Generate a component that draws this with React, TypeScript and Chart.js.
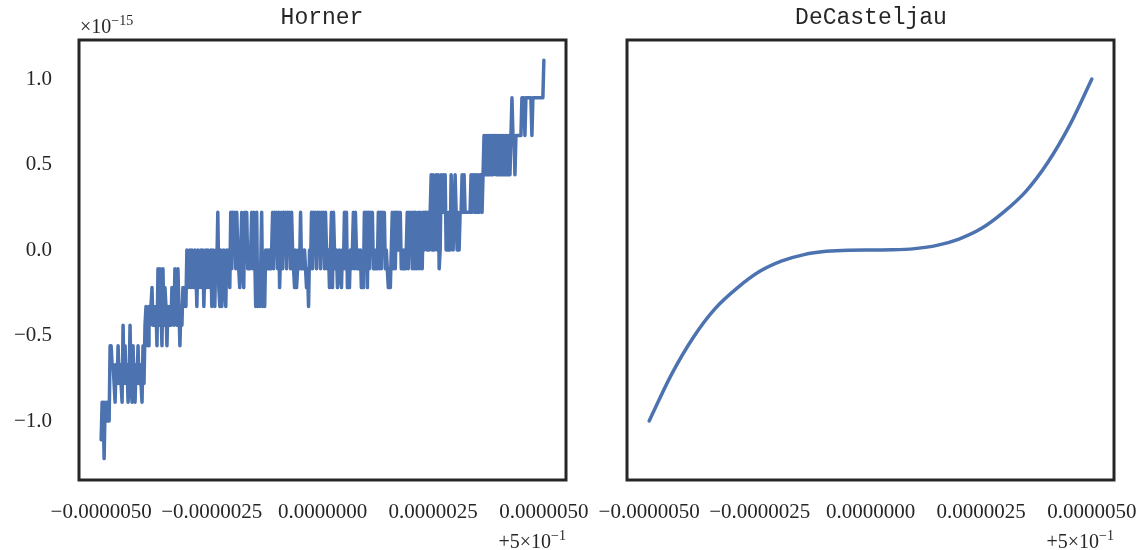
import React, { useEffect, useRef } from "react";
import { Chart, registerables } from "chart.js";

Chart.register(...registerables);

// ---- axis ticks (x values are offsets from 0.5; y values in units of 1e-15) ----
const X_TICKS = [-5e-6, -2.5e-6, 0, 2.5e-6, 5e-6];
const X_TICK_LABELS = ["−0.0000050", "−0.0000025", "0.0000000", "0.0000025", "0.0000050"];
const Y_TICKS = [-1.0, -0.5, 0.0, 0.5, 1.0];
const Y_TICK_LABELS = ["−1.0", "−0.5", "0.0", "0.5", "1.0"];
const X_RANGE = [-5.5e-6, 5.5e-6];
const Y_RANGE = [-1.345, 1.228];

// ---- Horner evaluation (noisy, quantized), evenly spaced samples ----
const HORNER_X_START = -5e-6;
const HORNER_X_END = 5e-6;
const HORNER_VALUES = [
  -1.11, -0.89, -0.89, -1.22, -0.89, -1.0, -0.89, -1.0, -1.0, -0.56, -0.56, -0.67, -0.67, -0.78, -0.89, -0.67, -0.78, -0.56, -0.78, -0.67,
  -0.78, -0.89, -0.44, -0.78, -0.56, -0.78, -0.67, -0.89, -0.78, -0.44, -0.78, -0.89, -0.56, -0.78, -0.89, -0.67, -0.78, -0.56, -0.78, -0.67,
  -0.78, -0.89, -0.56, -0.78, -0.44, -0.33, -0.44, -0.56, -0.33, -0.44, -0.33, -0.22, -0.44, -0.33, -0.44, -0.33, -0.56, -0.11, -0.44, -0.11,
  -0.33, -0.56, -0.11, -0.44, -0.22, -0.33, -0.56, -0.33, -0.44, -0.33, -0.44, -0.22, -0.33, -0.44, -0.11, -0.33, -0.44, -0.11, -0.33, -0.56,
  -0.33, -0.44, -0.22, -0.33, -0.22, -0.33, 0, -0.22, -0.11, 0, -0.22, 0, -0.11, -0.22, 0, -0.11, -0.33, 0, -0.22, -0.11,
  0, -0.22, 0, -0.33, -0.11, 0, -0.22, 0, -0.11, -0.22, 0, -0.33, 0, -0.22, -0.33, 0, -0.11, 0.22, -0.22, -0.33,
  0, -0.33, -0.11, 0, -0.22, -0.33, 0, -0.11, 0, -0.22, 0.22, -0.11, 0.22, 0, 0.22, -0.11, 0.22, 0, -0.11, -0.22,
  0, 0.22, -0.11, -0.22, 0.22, 0, 0.22, -0.11, 0, -0.11, 0, 0.22, -0.11, 0.22, 0, -0.33, 0.22, -0.33, -0.11, -0.33,
  -0.11, 0.22, -0.33, -0.11, -0.33, 0, -0.11, 0, -0.11, 0, -0.11, 0, 0.22, -0.11, 0.22, 0, 0.22, -0.11, 0.22, -0.22,
  0, 0.22, -0.11, 0.22, 0, 0.22, -0.11, 0.22, 0, 0.22, -0.11, 0.22, 0, -0.11, -0.22, 0, -0.22, -0.11, 0, -0.11,
  0.22, -0.11, 0, -0.11, 0, -0.11, -0.22, -0.11, -0.33, 0, -0.11, 0.22, -0.11, 0.22, 0, 0.22, -0.11, 0.22, 0, 0.22,
  -0.11, 0.22, 0, 0.22, -0.11, 0.22, 0, -0.11, 0, -0.22, 0, 0.22, -0.22, 0.22, 0, -0.11, 0, -0.22, -0.11, 0,
  -0.11, -0.22, 0, -0.11, 0.22, -0.11, 0.22, -0.22, -0.11, -0.22, 0, -0.11, 0, 0.22, -0.11, 0.22, 0, -0.11, 0, -0.11,
  0, -0.22, -0.11, -0.22, 0.22, -0.11, 0.22, -0.22, 0.22, -0.11, 0.22, 0, 0.22, -0.11, 0, -0.11, 0, -0.11, 0.22, -0.11,
  0.22, -0.11, 0.22, 0, 0.22, -0.11, 0, -0.11, -0.22, -0.11, -0.22, 0, 0.22, -0.11, 0.22, -0.11, 0.22, 0, 0.22, 0,
  0.22, -0.11, 0, -0.11, 0, -0.11, 0, 0.22, -0.11, 0.22, 0, 0.22, -0.11, 0.22, -0.11, 0.22, -0.11, 0, 0.22, -0.11,
  0.22, 0, -0.11, 0.22, 0, 0.22, 0.22, 0, 0.22, 0, 0.22, 0.44, 0, 0.44, 0, 0.22, 0.44, 0, 0.44, -0.11,
  0, 0.44, 0.22, 0.44, 0.22, 0.44, 0, 0.22, 0, 0.22, 0, 0.44, 0.22, 0, 0.22, 0.44, 0.22, 0, 0.22, 0,
  0.22, 0.22, 0.44, 0.22, 0.44, 0.22, 0.22, 0.22, 0.22, 0.22, 0.22, 0.44, 0.22, 0.44, 0.44, 0.22, 0.44, 0.22, 0.44, 0.22,
  0.44, 0.44, 0.22, 0.44, 0.67, 0.44, 0.67, 0.44, 0.67, 0.44, 0.67, 0.44, 0.67, 0.44, 0.67, 0.67, 0.44, 0.67, 0.44, 0.67,
  0.44, 0.67, 0.44, 0.67, 0.44, 0.67, 0.44, 0.67, 0.44, 0.67, 0.44, 0.67, 0.89, 0.67, 0.67, 0.44, 0.67, 0.67, 0.67, 0.67,
  0.67, 0.67, 0.89, 0.89, 0.89, 0.67, 0.89, 0.89, 0.89, 0.89, 0.89, 0.89, 0.67, 0.89, 0.89, 0.89, 0.89, 0.89, 0.89, 0.89,
  0.89, 0.89, 0.89, 0.89, 1.11,
];

// ---- DeCasteljau evaluation (smooth) ----
const CASTELJAU_X = [
  -5e-6, -4.5e-6, -4e-6, -3.5e-6, -3e-6, -2.5e-6, -2e-6, -1.5e-6, -1e-6, -0.5e-6, 0,
  0.5e-6, 1e-6, 1.5e-6, 2e-6, 2.5e-6, 3e-6, 3.5e-6, 4e-6, 4.5e-6, 5e-6,
];
const CASTELJAU_VALUES = [
  -1.0, -0.73, -0.51, -0.34, -0.22, -0.125, -0.064, -0.027, -0.008, -0.001, 0,
  0.001, 0.008, 0.027, 0.064, 0.125, 0.22, 0.34, 0.51, 0.73, 1.0,
];

const LINE_COLOR = "#4C72B0";
const TEXT_COLOR = "#262626";
const TICK_FONT = { family: "'Liberation Serif', 'DejaVu Serif', serif", size: 21 };

const framePlugin = {
  id: "frameBox",
  afterDatasetsDraw(chart: any) {
    const { ctx, chartArea: a } = chart;
    ctx.save();
    ctx.strokeStyle = TEXT_COLOR;
    ctx.lineWidth = 3;
    ctx.strokeRect(a.left, a.top, a.right - a.left, a.bottom - a.top);
    ctx.restore();
  },
};

function buildChart(
  canvas: HTMLCanvasElement,
  points: { x: number; y: number }[],
  smooth: boolean,
  showY: boolean,
  padLeft: number,
  padRight: number
) {
  return new Chart(canvas, {
    type: "line",
    data: {
      datasets: [
        {
          data: points,
          borderColor: LINE_COLOR,
          borderWidth: 3.5,
          pointRadius: 0,
          fill: false,
          tension: 0,
          cubicInterpolationMode: smooth ? "monotone" : "default",
          borderJoinStyle: "round",
          borderCapStyle: "round",
        } as any,
      ],
    },
    options: {
      responsive: false,
      animation: false,
      layout: { padding: { left: padLeft, right: padRight, top: 40, bottom: 0 } },
      plugins: { legend: { display: false }, tooltip: { enabled: false }, title: { display: false } },
      scales: {
        x: {
          type: "linear",
          min: X_RANGE[0],
          max: X_RANGE[1],
          grid: { display: false, drawTicks: false },
          border: { display: false },
          afterBuildTicks: (s: any) => {
            s.ticks = X_TICKS.map((v) => ({ value: v }));
          },
          afterFit: (s: any) => {
            s.height = 70;
            s.paddingLeft = 0;
            s.paddingRight = 0;
          },
          ticks: {
            autoSkip: false,
            maxRotation: 0,
            minRotation: 0,
            padding: 20,
            color: TEXT_COLOR,
            font: TICK_FONT,
            callback: (_v: any, i: number) => X_TICK_LABELS[i],
          },
        },
        y: {
          type: "linear",
          display: showY,
          min: Y_RANGE[0],
          max: Y_RANGE[1],
          grid: { display: false, drawTicks: false },
          border: { display: false },
          afterBuildTicks: (s: any) => {
            s.ticks = Y_TICKS.map((v) => ({ value: v }));
          },
          afterFit: (s: any) => {
            s.width = showY ? 79 : 0;
            s.paddingTop = 0;
            s.paddingBottom = 0;
          },
          ticks: {
            padding: 27,
            color: TEXT_COLOR,
            font: TICK_FONT,
            callback: (_v: any, i: number) => Y_TICK_LABELS[i],
          },
        },
      },
    } as any,
    plugins: [framePlugin],
  });
}

const serif = "'Liberation Serif', 'DejaVu Serif', serif";

function OffsetLabel({ right }: { right: number }) {
  return (
    <div
      style={{
        position: "absolute",
        left: right,
        top: 531,
        transform: "translateX(-100%)",
        font: `20px ${serif}`,
        lineHeight: "20px",
        color: TEXT_COLOR,
        whiteSpace: "nowrap",
      }}
    >
      +5×10
      <span style={{ fontSize: 14, position: "relative", top: -8 }}>−1</span>
    </div>
  );
}

function Title({ text, center }: { text: string; center: number }) {
  return (
    <div
      style={{
        position: "absolute",
        left: center,
        top: 7,
        transform: "translateX(-50%)",
        font: "23px 'Liberation Mono', 'DejaVu Sans Mono', monospace",
        lineHeight: "23px",
        color: TEXT_COLOR,
        whiteSpace: "nowrap",
      }}
    >
      {text}
    </div>
  );
}

export default function App() {
  const leftRef = useRef<HTMLCanvasElement>(null);
  const rightRef = useRef<HTMLCanvasElement>(null);

  useEffect(() => {
    const step = (HORNER_X_END - HORNER_X_START) / (HORNER_VALUES.length - 1);
    const hornerPts = HORNER_VALUES.map((y, i) => ({ x: HORNER_X_START + i * step, y }));
    const castPts = CASTELJAU_VALUES.map((y, i) => ({ x: CASTELJAU_X[i], y }));
    const c1 = buildChart(leftRef.current!, hornerPts, false, true, 0, 34);
    const c2 = buildChart(rightRef.current!, castPts, true, false, 67, 29);
    return () => {
      c1.destroy();
      c2.destroy();
    };
  }, []);

  return (
    <div
      style={{
        position: "absolute",
        left: 0,
        top: 0,
        width: 1143,
        height: 550,
        background: "#ffffff",
        overflow: "hidden",
      }}
    >
      <canvas
        ref={leftRef}
        width={600}
        height={550}
        style={{ position: "absolute", left: 0, top: 0, width: 600, height: 550 }}
      />
      <canvas
        ref={rightRef}
        width={583}
        height={550}
        style={{ position: "absolute", left: 560, top: 0, width: 583, height: 550 }}
      />
      <Title text="Horner" center={322} />
      <Title text="DeCasteljau" center={871} />
      <div
        style={{
          position: "absolute",
          left: 80,
          top: 16,
          font: `20px ${serif}`,
          lineHeight: "20px",
          color: TEXT_COLOR,
          whiteSpace: "nowrap",
        }}
      >
        ×10
        <span style={{ fontSize: 14, position: "relative", top: -8 }}>−15</span>
      </div>
      <OffsetLabel right={566} />
      <OffsetLabel right={1114} />
    </div>
  );
}
